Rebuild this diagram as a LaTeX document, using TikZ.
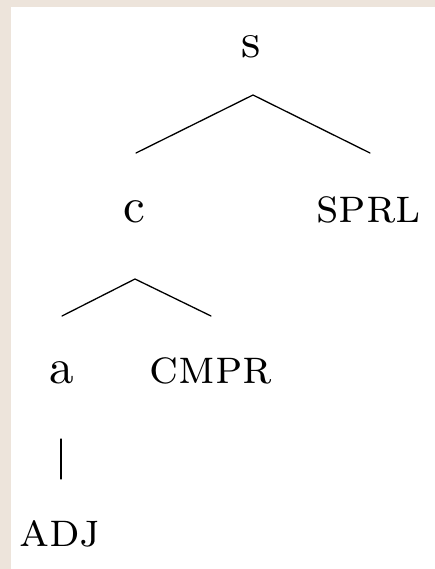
\documentclass[tikz,border=0pt]{standalone}
\usepackage{fontspec}
% the 10pt design of Latin Modern, scaled up, for its heavier strokes
\setmainfont{lmroman10-regular.otf}[SmallCapsFont=lmromancaps10-regular.otf]
\definecolor{paper}{RGB}{237,228,219}
\begin{document}
\begin{tikzpicture}[x=1pt,y=-1pt,
  lbl/.style={inner sep=0pt,anchor=base,font=\fontsize{49}{55}\selectfont},
  branch/.style={line width=1.3pt,line cap=round}]
% page and beige edge
\useasboundingbox (0,0) rectangle (435,569);
\fill[white] (0,0) rectangle (435,569);
\fill[paper] (0,0) rectangle (435,7);
\fill[paper] (0,0) rectangle (11,569);
% labels
\node[lbl] (s)    at (251,58)  {s};
\node[lbl] (c)    at (134.5,222) {c};
\node[lbl] (sprl) at (368.5,222) {\textsc{sprl}};
\node[lbl] (a)    at (62,383)  {a};
\node[lbl] (cmpr) at (211,383) {\textsc{cmpr}};
\node[lbl] (adj)  at (60,546)  {\textsc{adj}};
% branch end points
\coordinate (s-join)    at (253,95);
\coordinate (c-top)     at (136,153);
\coordinate (sprl-top)  at (370,153);
\coordinate (c-join)    at (135,279);
\coordinate (a-top)     at (62,316);
\coordinate (cmpr-top)  at (211,316);
\coordinate (a-join)    at (61,439);
\coordinate (adj-top)   at (61,479);
% branches
\draw[branch] (c-top) -- (s-join) -- (sprl-top);
\draw[branch] (a-top) -- (c-join) -- (cmpr-top);
\draw[branch] (a-join) -- (adj-top);
\end{tikzpicture}
\end{document}
